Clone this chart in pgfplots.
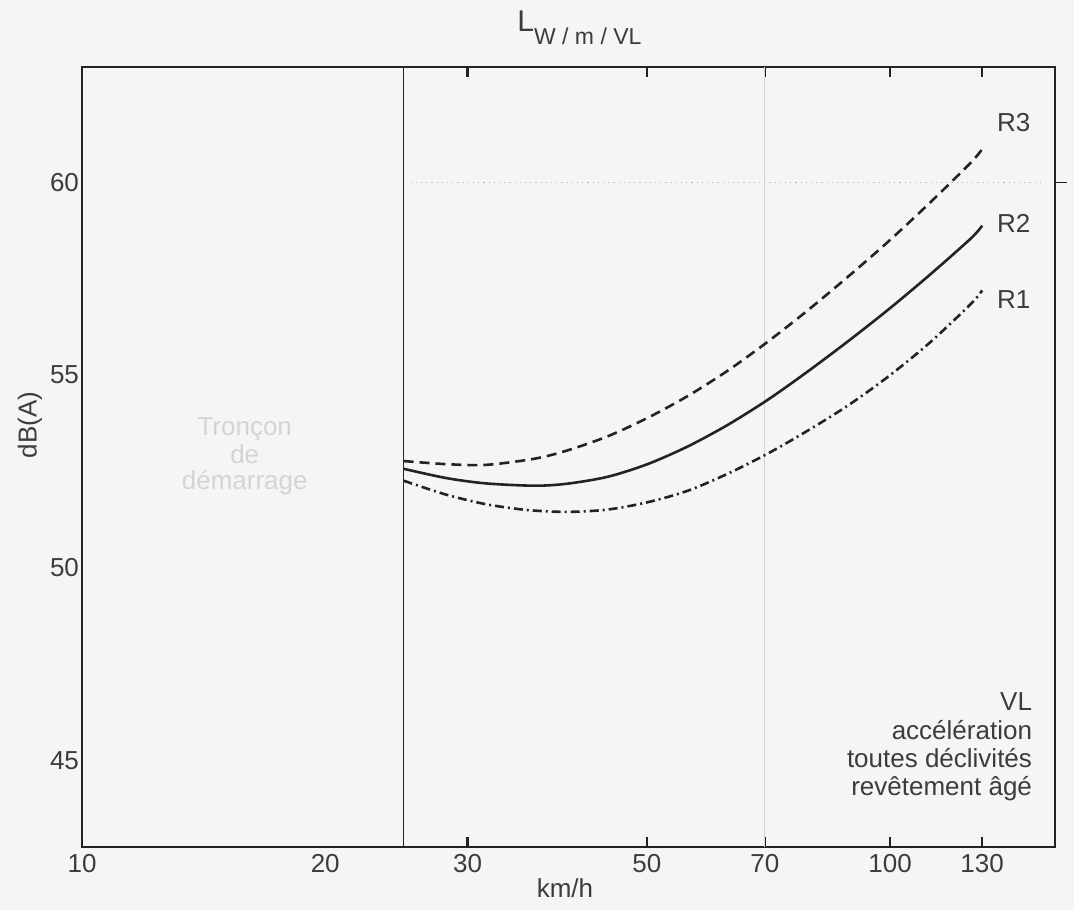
\documentclass[border=0pt]{standalone}
\usepackage{fontspec}
\setmainfont{Liberation Sans}
\usepackage{pgfplots}
\pgfplotsset{compat=1.18}
\definecolor{bg}{RGB}{245,245,243}
\definecolor{ink}{RGB}{35,35,35}
\definecolor{txt}{RGB}{60,60,60}
\definecolor{faint}{RGB}{212,212,210}
\newcommand{\fs}{\fontsize{13}{15}\selectfont}
\begin{document}
\begin{tikzpicture}[x=1pt,y=1pt]
\fill[bg,use as bounding box] (0,0) rectangle (537,455);
\begin{axis}[
  at={(41pt,31.5pt)}, anchor=south west,
  scale only axis, width=486.5pt, height=390pt,
  xmode=log, log basis x=10,
  xmin=10, xmax=160, ymin=42.75, ymax=63,
  xtick={30,50,70,100,130},
  xticklabels={30,50,70,100,130},
  minor xtick={},
  extra x ticks={10,20}, extra x tick labels={10,20},
  extra x tick style={major tick length=0pt},
  ytick={45,50,55,60},
  yticklabels={45,50,55,60},
  ytick style={draw=none},
  tick align=inside,
  major tick length=5pt,
  xtick style={ink, line width=1.3pt},
  axis line style={ink, line width=0.8pt},
  tick label style={font=\fs, text=txt},
  /pgf/number format/assume math mode=true,
  yticklabel style={xshift=2pt},
  clip=false,
]
% faint background elements
\draw[faint, line width=0.6pt] (axis cs:70,42.75) -- (axis cs:70,63);
\draw[black!30, dotted, line width=0.6pt] (axis cs:25.5,60) -- (axis cs:155,60);
\node[inner sep=0, text=faint, font=\fs] at (axis cs:15.9,53.6) {Tronçon};
\node[inner sep=0, text=faint, font=\fs] at (axis cs:15.9,52.95) {de};
\node[inner sep=0, text=faint, font=\fs] at (axis cs:15.9,52.2) {démarrage};
% 25 km/h boundary
\draw[ink, line width=0.8pt] (axis cs:25,42.75) -- (axis cs:25,63);
% right tick at 60
\draw[ink, line width=0.8pt] (axis cs:160,60) -- ([xshift=6pt]axis cs:160,60);

% R3 dashed
\addplot[ink, line width=1.3pt, smooth, dash pattern=on 5pt off 3pt] coordinates {
(25,52.77) (28.2,52.69) (31.6,52.67) (36.3,52.83) (39.8,53.04) (44.7,53.41)
(50.1,53.89) (56.2,54.46) (63.1,55.13) (70.8,55.89) (79.4,56.71) (89.1,57.59)
(100,58.51) (112.2,59.49) (125.9,60.52) (130,60.87)};
% R2 solid
\addplot[ink, line width=1.3pt, smooth] coordinates {
(25,52.57) (28.2,52.33) (31.6,52.19) (36.3,52.13) (39.8,52.18) (44.7,52.36)
(50.1,52.69) (56.2,53.15) (63.1,53.72) (70.8,54.38) (79.4,55.12) (89.1,55.91)
(100,56.74) (112.2,57.62) (125.9,58.55) (130,58.88)};
% R1 dash-dot
\addplot[ink, line width=1.3pt, smooth, dash pattern=on 4.5pt off 2pt on 1pt off 2pt] coordinates {
(25,52.26) (28.2,51.9) (31.6,51.65) (35.5,51.5) (39.8,51.45) (44.7,51.51)
(50.1,51.70) (56.2,52.0) (63.1,52.45) (70.8,52.98) (79.4,53.58) (89.1,54.24)
(100,55.0) (112.2,55.86) (125.9,56.85) (130,57.2)};

\node[anchor=west, inner sep=0, font=\fs, text=txt] at (axis cs:135.5,61.55) {R3};
\node[anchor=west, inner sep=0, font=\fs, text=txt] at (axis cs:135.5,58.95) {R2};
\node[anchor=west, inner sep=0, font=\fs, text=txt] at (axis cs:135.5,56.95) {R1};

\node[anchor=base east, inner sep=0, font=\fs, text=txt] at (axis cs:150,46.3) {VL};
\node[anchor=base east, inner sep=0, font=\fs, text=txt] at (axis cs:150,45.55) {accélération};
\node[anchor=base east, inner sep=0, font=\fs, text=txt] at (axis cs:150,44.82) {toutes déclivités};
\node[anchor=base east, inner sep=0, font=\fs, text=txt] at (axis cs:150,44.09) {revêtement âgé};
\end{axis}
\node[anchor=base, inner sep=0, font=\fs, text=txt] at (282.5,6.5) {km/h};
\node[rotate=90, inner sep=0, font=\fs, text=txt] at (15,242.5) {dB(A)};
\node[anchor=base west, inner sep=0, text=txt] at (258.5,439)
  {\fontsize{15}{17}\selectfont L\raisebox{-6.5pt}{\fontsize{11.5}{13}\selectfont W / m / VL}};
\end{tikzpicture}
\end{document}
